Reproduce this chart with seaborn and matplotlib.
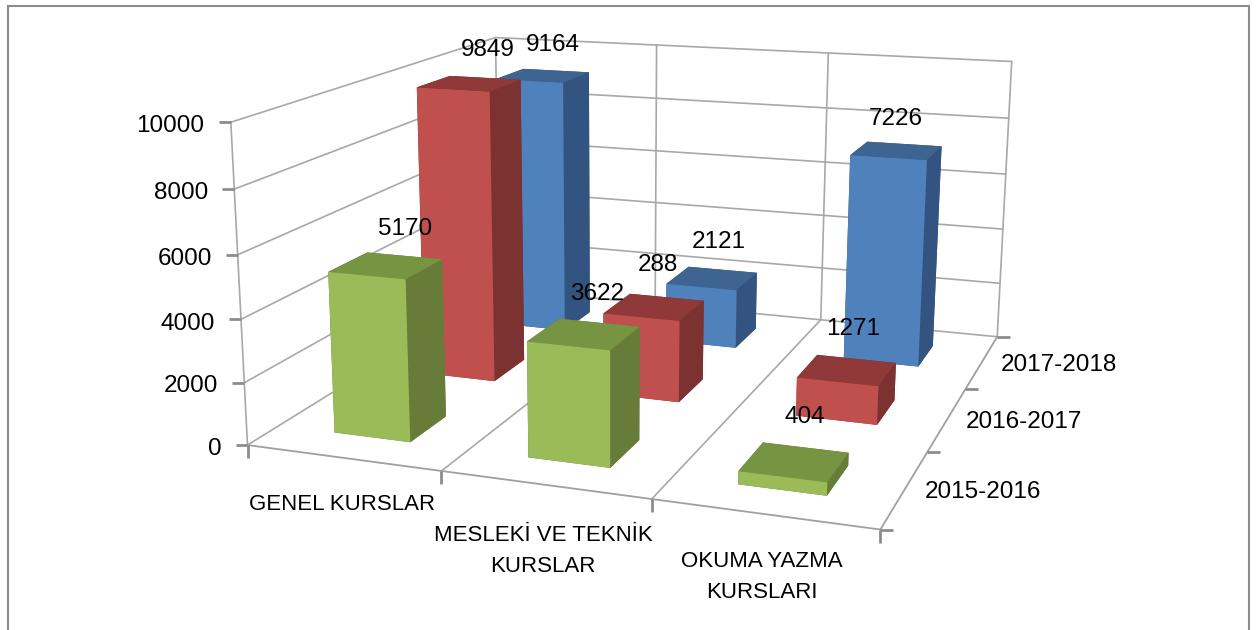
import matplotlib

matplotlib.use("Agg")

import matplotlib.pyplot as plt
import numpy as np
import seaborn as sns
from matplotlib.patches import Rectangle

# Chart data
CATEGORIES = ["GENEL KURSLAR", "MESLEKİ VE TEKNİK\nKURSLAR", "OKUMA YAZMA\nKURSLARI"]
SERIES = ["2015-2016", "2016-2017", "2017-2018"]
VALUES_2015 = [5170, 3622, 404]
VALUES_2016 = [9849, 2750, 1271]
VALUES_2017 = [9164, 2121, 7226]
# the picture prints 288 on the middle red bar, but the bar is drawn far taller
LABELS_2015 = ["5170", "3622", "404"]
LABELS_2016 = ["9849", "288", "1271"]
LABELS_2017 = ["9164", "2121", "7226"]
Z_TICKS = [0, 2000, 4000, 6000, 8000, 10000]

# Layout
W, H = 1257, 630
BAR_START = 0.3
BAR_SIZE = 0.4
GRID_COLOR = "#A8A8A8"
AXIS_COLOR = "#A0A0A0"
TICK_COLOR = "#8C8C8C"
FRONT_COLORS = ["#9BBB59", "#C0504D", "#4F81BD"]
TOP_COLORS = ["#769442", "#8F3A38", "#3E6491"]
SIDE_COLORS = ["#667C38", "#7C3230", "#335480"]

# Camera: wall corners and ticks of the box, (x, y, z) -> pixel in the picture
BOX_POINTS = [
    (0, 0, 0), (1, 0, 0), (2, 0, 0), (3, 0, 0),
    (3, 1, 0), (3, 2, 0), (3, 3, 0),
    (0, 0, 2000), (0, 0, 4000), (0, 0, 6000), (0, 0, 8000), (0, 0, 10000),
    (0, 3, 10000), (1, 3, 10000), (2, 3, 10000), (3, 3, 10000),
]
BOX_PIXELS = [
    (247, 445), (441, 471), (651, 499), (881, 529),
    (927, 452), (966, 389), (997, 337),
    (245, 383), (242, 320), (237, 255), (234, 189), (231, 122),
    (496, 37), (656, 45), (828, 53), (1012, 62),
]

# Label centres in picture pixels
LABEL_XY_2015 = [(405, 229), (597, 294), (805, 417)]
LABEL_XY_2016 = [(488, 50), (658, 265), (853, 329)]
LABEL_XY_2017 = [(553, 45), (719, 242), (896, 119)]
Z_LABEL_XY = [(222, 449), (218, 386), (215, 324), (212, 259), (208, 193), (204, 126)]
SERIES_LABEL_XY = [(983, 492), (1024, 422), (1059, 365)]
CATEGORY_LABEL_XY = [(342, 505), (543, 551), (762, 577)]


def fit_camera(ax):
    """Solve the 3x4 camera from the box points and return it as mplot3d's M."""
    rows = []
    for (x, y, z), (u, v) in zip(BOX_POINTS, BOX_PIXELS):
        z, u, v = z / 10000, u / 1000, v / 1000
        rows.append([x, y, z, 1, 0, 0, 0, 0, -u * x, -u * y, -u * z, -u])
        rows.append([0, 0, 0, 0, x, y, z, 1, -v * x, -v * y, -v * z, -v])
    cam = np.linalg.svd(np.array(rows))[2][-1].reshape(3, 4)
    cam[:, 2] /= 10000
    cam[:2] *= 1000
    if cam[2] @ [1.5, 1.5, 0, 1] < 0:
        cam = -cam

    # picture pixels -> the 2d limits of the 3d axes
    ax.apply_aspect()
    (x0, y0), (x1, y1) = ax.transData.inverted().transform([(0, H), (W, 0)])
    to_axes = np.array([[(x1 - x0) / W, 0, x0], [0, (y1 - y0) / H, y0], [0, 0, 1]])
    cam = to_axes @ cam
    return np.array([cam[0], cam[1], [0, 0, 0, -1], cam[2]])


def put_text(fig, xy, text, **kwargs):
    fig.text(xy[0] / W, 1 - xy[1] / H, text, color="black", **kwargs)


def main():
    sns.set_theme(style="white", font="Liberation Sans")

    fig = plt.figure(figsize=(W / 100, H / 100), dpi=100)
    ax = fig.add_axes([0, -0.5, 1, 2], projection="3d")
    ax.set_axis_off()
    ax.computed_zorder = False
    ax.patch.set_alpha(0)

    M = fit_camera(ax)
    ax.get_proj = lambda: M

    # Walls
    grid = dict(color=GRID_COLOR, lw=1.2, zorder=1)
    for z in Z_TICKS:
        ax.plot([0, 0, 3], [0, 3, 3], [z, z, z], **grid)
    for x in range(4):
        ax.plot([x, x], [3, 3], [0, 10000], **grid)
    ax.plot([0, 0], [0, 0], [0, 10000], **grid)

    # Floor and ticks
    for x in [1, 2]:
        ax.plot([x, x], [0, 3], [0, 0], **grid)
    ax.plot([0, 3, 3], [0, 0, 3], [0, 0, 0], color=AXIS_COLOR, lw=1.3, zorder=2)
    tick = dict(color=TICK_COLOR, ls="none", ms=9, mew=2, zorder=2)
    for z in Z_TICKS:
        ax.plot([0], [0], [z], marker=0, **tick)
    for x in range(4):
        ax.plot([x], [0], [0], marker=3, **tick)
    for y in range(4):
        ax.plot([3], [y], [0], marker=1, **tick)

    # Bars, back row first so the front ones cover them
    rows = [VALUES_2015, VALUES_2016, VALUES_2017]
    order = 10
    for j in [2, 1, 0]:
        face = [
            SIDE_COLORS[j], TOP_COLORS[j], FRONT_COLORS[j],
            SIDE_COLORS[j], SIDE_COLORS[j], SIDE_COLORS[j],
        ]
        for i, value in enumerate(rows[j]):
            ax.bar3d(
                i + BAR_START, j + BAR_START, 0,
                BAR_SIZE, BAR_SIZE, value,
                color=face, shade=False, edgecolor="none", zorder=order,
            )
            order += 1

    # Text
    centered = dict(ha="center", va="center", fontsize=17.5)
    for labels, places in [
        (LABELS_2017, LABEL_XY_2017),
        (LABELS_2016, LABEL_XY_2016),
        (LABELS_2015, LABEL_XY_2015),
    ]:
        for label, xy in zip(labels, places):
            put_text(fig, xy, label, **centered)
    for z, xy in zip(Z_TICKS, Z_LABEL_XY):
        put_text(fig, xy, str(z), ha="right", va="center", fontsize=17.5)
    for name, xy in zip(SERIES, SERIES_LABEL_XY):
        put_text(fig, xy, name, **centered)
    for name, xy in zip(CATEGORIES, CATEGORY_LABEL_XY):
        put_text(fig, xy, name, ha="center", va="center", fontsize=16, linespacing=1.6, multialignment="center")

    # Outer frame of the pasted chart, its bottom edge is cut off
    fig.add_artist(
        Rectangle(
            (8 / W, -0.1), 1241 / W, 1.1 - 6 / H,
            transform=fig.transFigure, fill=False, edgecolor="#8C8C8C", lw=1.5,
        )
    )

    fig.savefig("out.png", dpi=100)
    plt.close(fig)


if __name__ == "__main__":
    main()
